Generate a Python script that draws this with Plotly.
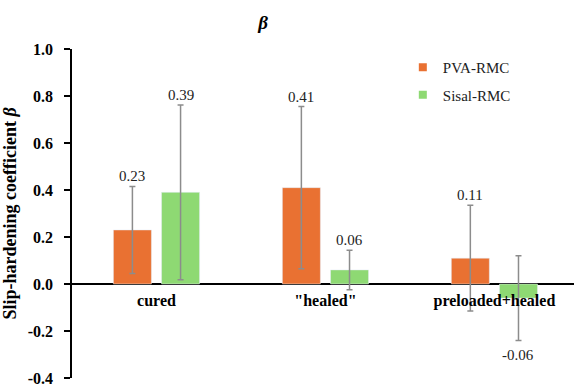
import plotly.graph_objects as go

categories = ["cured", "\"healed\"", "preloaded+healed"]
pva_values = [0.23, 0.41, 0.11]
sisal_values = [0.39, 0.06, -0.06]
pva_err = [0.185, 0.345, 0.225]
sisal_err = [0.372, 0.084, 0.18]
pva_labels = ["0.23", "0.41", "0.11"]
sisal_labels = ["0.39", "0.06", "-0.06"]
y_tickvals = [-0.4, -0.2, 0.0, 0.2, 0.4, 0.6, 0.8, 1.0]

ORANGE = "#E97132"
GREEN = "#8ED973"
ERR = "#8C8C8C"
FONT = "Liberation Serif"

W, H = 574, 389
ML, MR, MT, MB = 72, 0, 49, 11

xpos = list(range(len(categories)))
bw = 0.225
off_p = -0.255
off_s = 0.03

fig = go.Figure()
fig.add_trace(go.Bar(
    x=xpos, y=pva_values, name="PVA-RMC", marker_color=ORANGE,
    width=bw, offset=off_p, showlegend=False,
    error_y=dict(type="data", array=pva_err, visible=True, color=ERR, thickness=1.5, width=3),
))
fig.add_trace(go.Bar(
    x=xpos, y=sisal_values, name="Sisal-RMC", marker_color=GREEN,
    width=bw, offset=off_s, showlegend=False,
    error_y=dict(type="data", array=sisal_err, visible=True, color=ERR, thickness=1.5, width=3),
))
# legend entries with small square symbols
fig.add_trace(go.Scatter(x=[None], y=[None], mode="markers", name="PVA-RMC", legendgroup="a",
                         marker=dict(symbol="square", size=8, color=ORANGE)))
fig.add_trace(go.Scatter(x=[None], y=[None], mode="markers", name="Sisal-RMC", legendgroup="b",
                         marker=dict(symbol="square", size=8, color=GREEN)))

annotations = []
for i in xpos:
    for v, e, lab, off in [(pva_values[i], pva_err[i], pva_labels[i], off_p),
                           (sisal_values[i], sisal_err[i], sisal_labels[i], off_s)]:
        xc = i + off + bw / 2
        if v >= 0:
            annotations.append(dict(x=xc, y=v + e, text=lab, showarrow=False, xref="x", yref="y",
                                    yanchor="bottom", yshift=0, font=dict(family=FONT, size=15, color="#222")))
        else:
            annotations.append(dict(x=xc, y=v - e, text=lab, showarrow=False, xref="x", yref="y",
                                    yanchor="top", yshift=-5, font=dict(family=FONT, size=15, color="#222")))

plot_h = H - MT - MB
zero_frac = (0 - (-0.4)) / 1.4
x_pos_paper = (MB + zero_frac * plot_h) / H

fig.update_layout(
    width=W, height=H,
    margin=dict(l=ML, r=MR, t=MT, b=MB),
    paper_bgcolor="white", plot_bgcolor="white",
    barmode="overlay",
    title=dict(text="<b><i>β</i></b>", x=263 / W, xanchor="center", y=1 - 22 / H, yanchor="middle",
               font=dict(family=FONT, size=19, color="black")),
    xaxis=dict(
        tickmode="array", tickvals=xpos, ticktext=["<b>%s</b>" % c for c in categories],
        range=[-0.5, 2.471], showgrid=False, zeroline=False,
        showline=False, ticks="",
        anchor="free", position=x_pos_paper,
        tickfont=dict(family=FONT, size=16, color="black"),
    ),
    yaxis=dict(
        range=[-0.4, 1.0], tickvals=y_tickvals, ticktext=["<b>%.1f</b>" % v for v in y_tickvals],
        showgrid=False, zeroline=True, zerolinecolor="black", zerolinewidth=1.5,
        showline=True, linecolor="black", linewidth=1.5,
        ticks="outside", ticklen=6, tickwidth=1.5, tickcolor="black", ticklabelstandoff=8,
        tickfont=dict(family=FONT, size=16, color="black"),
        title=dict(text="<b>Slip-hardening coefficient <i>β</i></b>", standoff=6,
                   font=dict(family=FONT, size=18, color="black")),
    ),
    legend=dict(x=0.659, y=0.994, xanchor="left", yanchor="top", bgcolor="rgba(0,0,0,0)",
                font=dict(family=FONT, size=15, color="#222"), tracegroupgap=5,
                itemwidth=30),
    annotations=annotations,
    showlegend=True,
)

fig.write_html("out.html")
